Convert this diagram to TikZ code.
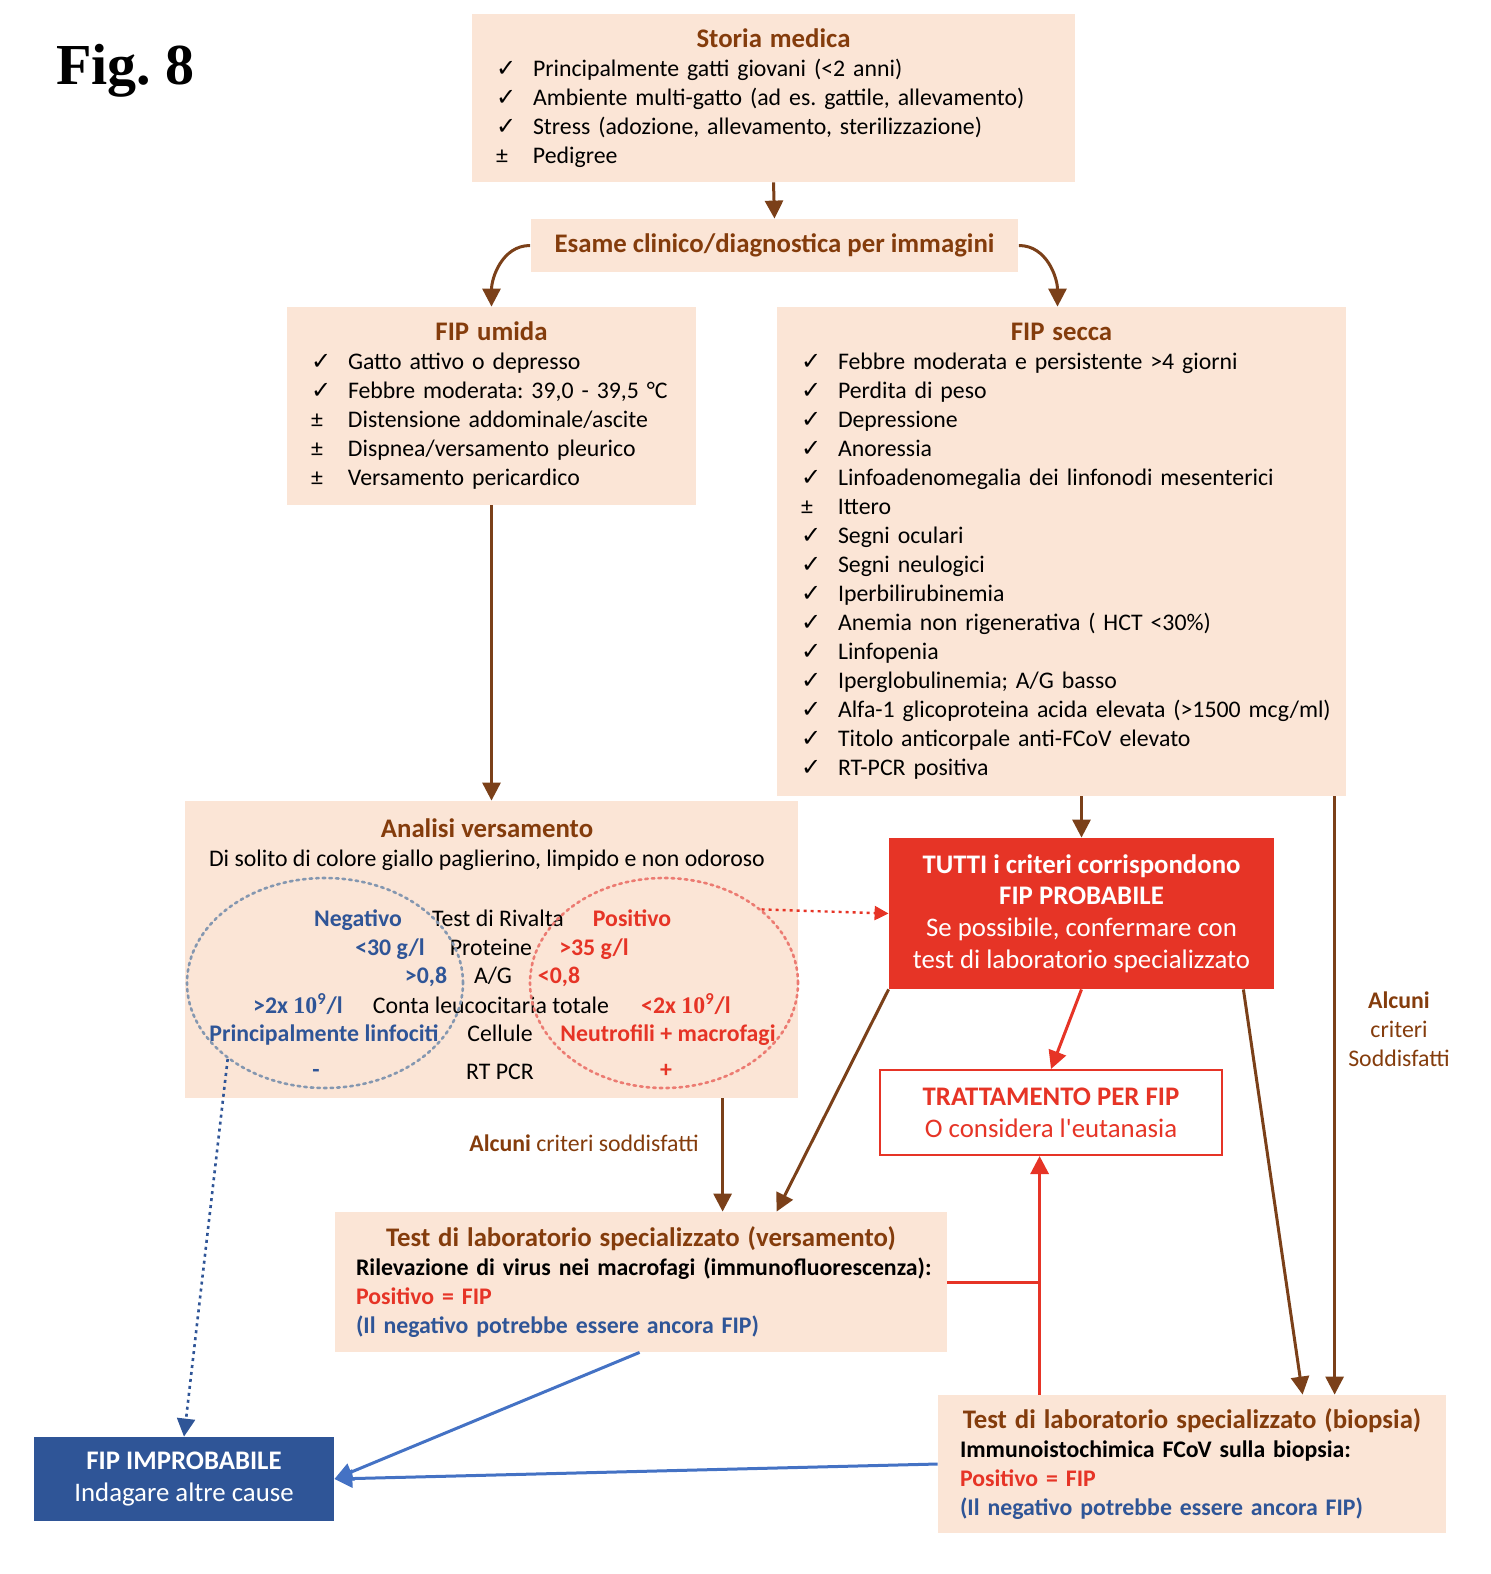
\documentclass[tikz,border=0pt]{standalone}
\usepackage{fontspec}
\setmainfont{Carlito}
\newfontfamily\symfont{DejaVu Sans}
\newfontfamily\figfont{Liberation Serif}
\usepackage{xcolor}
\usetikzlibrary{positioning,arrows.meta,calc,shapes.geometric}

\setlength{\parindent}{0pt}
\setlength{\parskip}{0pt}
\frenchspacing

\definecolor{peach}{HTML}{FBE5D6}
\definecolor{brownfip}{HTML}{843C0C}
\definecolor{brownline}{HTML}{7B4019}
\definecolor{redfip}{HTML}{E63426}
\definecolor{bluefip}{HTML}{2F5597}
\definecolor{bluearrow}{HTML}{4472C4}
\definecolor{blueoval}{HTML}{8497B0}
\definecolor{redoval}{HTML}{EC7B72}

\newcommand{\ck}{{\symfont\fontsize{12}{14.5}\selectfont ✓}}
\newcommand{\pmk}{±}
\newcommand{\itm}[2]{\mbox{\makebox[18.5pt][l]{#1}#2}}
\newcommand{\ttl}[1]{{\centering\leavevmode\fontsize{13.4}{14.5}\selectfont\bfseries\color{brownfip}#1\par}}
\newcommand{\tennine}{{\figfont\bfseries 10}\textsuperscript{9}/l}

\tikzset{
  peachbox/.style={rectangle, fill=peach, inner xsep=12pt, inner ysep=0pt, align=left,
    font=\fontsize{11.9}{14.5}\selectfont},
  brownarrow/.style={draw=brownline, line width=1.5pt, -{Triangle[length=9pt,width=9pt]}},
  redarrow/.style={draw=redfip, line width=1.5pt, -{Triangle[length=9pt,width=9pt]}},
  redline/.style={draw=redfip, line width=1.5pt},
  bluearr/.style={draw=bluearrow, line width=1.5pt, -{Triangle[length=9pt,width=9pt]}},
  oval/.style={ellipse, inner sep=0pt, dotted, line width=1.3pt, line cap=round},
  cell/.style={inner sep=0pt, text height=9pt, text depth=2.5pt, font=\fontsize{11.9}{14.5}\selectfont}
}

\begin{document}
\begin{tikzpicture}[x=0.5pt,y=-0.5pt]
    \useasboundingbox (0,0) rectangle (1490,1574);

    % Figure number
    \node[anchor=base west, inner sep=0pt, font=\figfont\bfseries\fontsize{29}{29}\selectfont] (fig) at (56,84) {Fig. 8};

    % Storia medica
    \node[peachbox, text width=277.5pt, minimum height=84pt] (storia) at (773.5,98) {\ttl{Storia medica}
    \itm{\ck}{Principalmente gatti giovani (<2 anni)}\\
    \itm{\ck}{Ambiente multi-gatto (ad es. gattile, allevamento)}\\
    \itm{\ck}{Stress (adozione, allevamento, sterilizzazione)}\\
    \itm{\pmk}{Pedigree}};

    \node[peachbox, minimum width=242.5pt, minimum height=26.5pt, text=brownfip,
      font=\bfseries\fontsize{13.4}{14.5}\selectfont] (esame) at (774.5,245.5) {Esame clinico/diagnostica per immagini};

    % FIP umida / FIP secca
    \node[peachbox, text width=180.5pt, minimum height=99pt] (umida) at (491.5,406) {\ttl{FIP umida}
    \itm{\ck}{Gatto attivo o depresso}\\
    \itm{\ck}{Febbre moderata: 39,0 - 39,5 °C}\\
    \itm{\pmk}{Distensione addominale/ascite}\\
    \itm{\pmk}{Dispnea/versamento pleurico}\\
    \itm{\pmk}{Versamento pericardico}};

    \node[peachbox, text width=260.5pt, minimum height=244.5pt] (secca) at (1061.5,551.5) {\ttl{FIP secca}
    \itm{\ck}{Febbre moderata e persistente >4 giorni}\\
    \itm{\ck}{Perdita di peso}\\
    \itm{\ck}{Depressione}\\
    \itm{\ck}{Anoressia}\\
    \itm{\ck}{Linfoadenomegalia dei linfonodi mesenterici}\\
    \itm{\pmk}{Ittero}\\
    \itm{\ck}{Segni oculari}\\
    \itm{\ck}{Segni neulogici}\\
    \itm{\ck}{Iperbilirubinemia}\\
    \itm{\ck}{Anemia non rigenerativa ( HCT <30\%)}\\
    \itm{\ck}{Linfopenia}\\
    \itm{\ck}{Iperglobulinemia; A/G basso}\\
    \itm{\ck}{Alfa-1 glicoproteina acida elevata (>1500 mcg/ml)}\\
    \itm{\ck}{Titolo anticorpale anti-FCoV elevato}\\
    \itm{\ck}{RT-PCR positiva}};

    % Analisi versamento
    \node[peachbox, minimum width=306.5pt, minimum height=148.5pt] (analisi) at (491.5,949.5) {};
    \node[align=center, inner sep=0pt, font=\fontsize{11.9}{14.5}\selectfont] (anatitle) at (487,845)
      {{\fontsize{13.4}{14.5}\selectfont\bfseries\color{brownfip}Analisi versamento}\\
      Di solito di colore giallo paglierino, limpido e non odoroso};

    \foreach \x/\y/\txt [count=\i] in {358/920/Negativo, 390/949/{<30 g/l}, 426/977/{>0,8},
        298/1007/{>2x \tennine}, 324/1035/{Principalmente linfociti}, 316/1071/{-}}
      \node[cell, text=bluefip, font=\bfseries\fontsize{11.9}{14.5}\selectfont] (neg\i) at (\x,\y) {\txt};
    \foreach \x/\y/\txt [count=\i] in {498/920/{Test di Rivalta}, 491/949/Proteine, 493/977/{A/G},
        491/1007/{Conta leucocitaria totale}, 500/1035/Cellule, 500/1073/{RT PCR}}
      \node[cell] (par\i) at (\x,\y) {\txt};
    \foreach \x/\y/\txt [count=\i] in {632/920/Positivo, 594/949/{>35 g/l}, 559/977/{<0,8},
        686/1007/{<2x \tennine}, 668/1035/{Neutrofili + macrofagi}, 666/1071/{+}}
      \node[cell, text=redfip, font=\bfseries\fontsize{11.9}{14.5}\selectfont] (pos\i) at (\x,\y) {\txt};

    \node[oval, draw=blueoval, minimum width=138pt, minimum height=105pt] (negoval) at (325,983) {};
    \node[oval, draw=redoval, minimum width=134pt, minimum height=105pt] (posoval) at (664,983) {};

    % FIP probabile and treatment
    \node[rectangle, fill=redfip, text=white, align=center, minimum width=192.5pt, minimum height=75.5pt,
      font=\fontsize{13.4}{15.8}\selectfont] (tutti) at (1081.5,913.5)
      {\textbf{TUTTI i criteri corrispondono}\\ \textbf{FIP PROBABILE}\\ Se possibile, confermare con\\ test di laboratorio specializzato};

    \node[rectangle, draw=redfip, line width=1pt, fill=white, text=redfip, align=center, minimum width=171pt,
      minimum height=42.5pt, font=\fontsize{13.4}{16}\selectfont] (tratt) at (1051,1112.5)
      {\textbf{TRATTAMENTO PER FIP}\\ O considera l\textquotesingle eutanasia};

    \node[align=center, inner sep=0pt, text=brownfip, font=\fontsize{11.9}{14.5}\selectfont] (alcuni) at (1399,1029)
      {\textbf{Alcuni}\\ criteri\\ Soddisfatti};
    \node[inner sep=0pt, text=brownfip, font=\fontsize{11.9}{14.5}\selectfont] (alcunidx) at (584,1143)
      {\textbf{Alcuni} criteri soddisfatti};

    % Specialised tests
    \node[peachbox, inner xsep=10.5pt, text width=285pt, minimum height=70pt] (testv) at (641,1282)
      {\ttl{Test di laboratorio specializzato (versamento)}
      \mbox{\textbf{Rilevazione di virus nei macrofagi (immunofluorescenza):}}\\
      \mbox{\textbf{\color{redfip}Positivo = FIP}}\\
      \mbox{\textbf{\color{bluefip}(Il negativo potrebbe essere ancora FIP)}}};

    \node[peachbox, inner xsep=11pt, text width=232pt, minimum height=69pt] (biopsia) at (1192,1464)
      {\ttl{Test di laboratorio specializzato (biopsia)}
      \mbox{\textbf{Immunoistochimica FCoV sulla biopsia:}}\\
      \mbox{\textbf{\color{redfip}Positivo = FIP}}\\
      \mbox{\textbf{\color{bluefip}(Il negativo potrebbe essere ancora FIP)}}};

    % FIP improbabile
    \node[rectangle, fill=bluefip, text=white, align=center, minimum width=150pt, minimum height=42pt,
      font=\fontsize{13.4}{16}\selectfont] (improb) at (184,1479)
      {\textbf{FIP IMPROBABILE}\\ Indagare altre cause};

    % Arrows
    \coordinate (anaout) at ($(analisi.south west)+(538,0)$);
    \coordinate (seccaout) at ($(secca.south west)+(558,0)$);
    \coordinate (redjoin) at ($(biopsia.north west)+(102,0)$);

    \draw[brownarrow] (storia.south) -- (esame.north);
    \draw[brownarrow] (esame.west) to[out=180,in=90] (umida.north);
    \draw[brownarrow] (esame.east) to[out=0,in=90] ([xshift=-2pt]secca.north);
    \draw[brownarrow] (umida) -- (analisi);
    \draw[brownarrow] (secca.south -| tutti.north) -- (tutti.north);
    \draw[redarrow, dotted, line width=1.2pt, -{Triangle[length=7pt,width=7pt]}] (posoval.37) -- (tutti.west);
    \draw[redarrow] (tutti.south) -- (tratt.north);
    \draw[brownarrow] (tutti.south west) -- ($(testv.north west)+(442,0)$);
    \draw[brownarrow] (anaout) -- (anaout |- testv.north);
    \draw[brownarrow] ($(tutti.south east)+(-31,0)$) -- ($(biopsia.north west)+(365,0)$);
    \draw[brownarrow] (seccaout) -- (seccaout |- biopsia.north);
    \draw[redarrow] (redjoin) -- (redjoin |- tratt.south);
    \draw[redline] (testv.east) -- (testv.east -| redjoin);
    \draw[bluearr] ($(testv.south west)+(305,0)$) -- (improb.east);
    \draw[bluearr] (biopsia.west) -- (improb.east);
    \draw[bluearr, draw=bluefip, dotted, line width=1.3pt] (negoval.218) -- (improb.north);
  \end{tikzpicture}
\end{document}
